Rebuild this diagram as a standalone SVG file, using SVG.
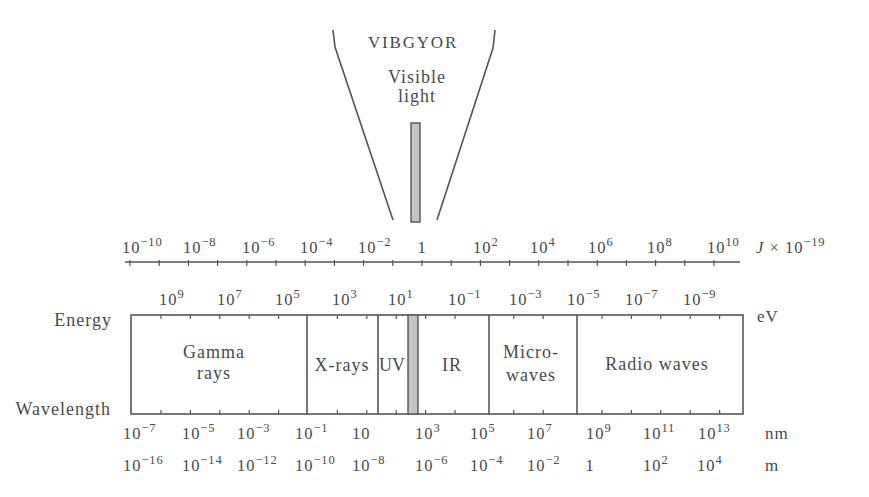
<svg xmlns="http://www.w3.org/2000/svg" width="869" height="497" viewBox="0 0 869 497">
<style>
text{font-family:"Liberation Serif","Times New Roman",serif;fill:#4a4a4a}
.lab{font-size:18px;letter-spacing:1px}
.num{font-size:16.5px;letter-spacing:1px}
.sup{font-size:12.5px;letter-spacing:0.8px}
.ln{stroke:#555;stroke-width:1.6;fill:none}
.tk{stroke:#555;stroke-width:1.2}
.bar{fill:#c4c4c4;stroke:#555;stroke-width:1.4}
</style>
<rect width="869" height="497" fill="#fff"/>

<g id="visible-funnel">
<path class="ln" d="M333 30 L335 47 L393 220"/>
<path class="ln" d="M495 30 L493 48 L437 220"/>
<rect class="bar" x="411" y="123" width="9" height="99"/>
<text class="lab" x="413" y="48" text-anchor="middle" style="letter-spacing:1.8px;font-size:17px">VIBGYOR</text>
<text class="lab" x="417" y="83" text-anchor="middle">Visible</text>
<text class="lab" x="417" y="102" text-anchor="middle">light</text>
</g>

<g id="energy-J-axis">
<line class="ln" x1="125" y1="262" x2="740" y2="262"/>
<path class="tk" d="M130 260v6M159.2 260v6M188.4 260v6M217.6 260v6M246.8 260v6M276 260v6M305.2 260v6M334.4 260v6M363.6 260v6M392.8 260v6M422 260v6M451.2 260v6M480.4 260v6M509.6 260v6M538.8 260v6M568 260v6M597.2 260v6M626.4 260v6M655.6 260v6M684.8 260v6M714 260v6"/>
<text class="num" x="122" y="253">10<tspan class="sup" dy="-7">−10</tspan></text>
<text class="num" x="183" y="253">10<tspan class="sup" dy="-7">−8</tspan></text>
<text class="num" x="242" y="253">10<tspan class="sup" dy="-7">−6</tspan></text>
<text class="num" x="300" y="253">10<tspan class="sup" dy="-7">−4</tspan></text>
<text class="num" x="358" y="253">10<tspan class="sup" dy="-7">−2</tspan></text>
<text class="num" x="422" y="253" text-anchor="middle">1</text>
<text class="num" x="473" y="253">10<tspan class="sup" dy="-7">2</tspan></text>
<text class="num" x="530" y="253">10<tspan class="sup" dy="-7">4</tspan></text>
<text class="num" x="588" y="253">10<tspan class="sup" dy="-7">6</tspan></text>
<text class="num" x="647" y="253">10<tspan class="sup" dy="-7">8</tspan></text>
<text class="num" x="707" y="253">10<tspan class="sup" dy="-7">10</tspan></text>
<text class="num" x="756" y="253"><tspan font-style="italic">J</tspan> × 10<tspan class="sup" dy="-7">−19</tspan></text>
</g>

<g id="energy-eV-labels">
<text class="num" x="159" y="305">10<tspan class="sup" dy="-7">9</tspan></text>
<text class="num" x="217" y="305">10<tspan class="sup" dy="-7">7</tspan></text>
<text class="num" x="275" y="305">10<tspan class="sup" dy="-7">5</tspan></text>
<text class="num" x="332" y="305">10<tspan class="sup" dy="-7">3</tspan></text>
<text class="num" x="388" y="305">10<tspan class="sup" dy="-7">1</tspan></text>
<text class="num" x="448" y="305">10<tspan class="sup" dy="-7">−1</tspan></text>
<text class="num" x="509" y="305">10<tspan class="sup" dy="-7">−3</tspan></text>
<text class="num" x="567" y="305">10<tspan class="sup" dy="-7">−5</tspan></text>
<text class="num" x="625" y="305">10<tspan class="sup" dy="-7">−7</tspan></text>
<text class="num" x="683" y="305">10<tspan class="sup" dy="-7">−9</tspan></text>
<text class="num" x="757" y="322" style="font-size:17px">eV</text>
<text class="lab" x="112" y="326" text-anchor="end">Energy</text>
<text class="lab" x="111" y="415" text-anchor="end">Wavelength</text>
</g>

<g id="spectrum-box">
<rect class="ln" x="131" y="315" width="612" height="99"/>
<path class="tk" d="M161 315v4M190.4 315v4M219.8 315v4M249.2 315v4M278.6 315v4M337.4 315v4M366.8 315v4M396.2 315v4M425.6 315v4M455 315v4M513.8 315v4M543.2 315v4M602 315v4M631.4 315v4M660.8 315v4M690.2 315v4M719.6 315v4"/>
<path class="tk" d="M161 414v-4M190.4 414v-4M219.8 414v-4M249.2 414v-4M278.6 414v-4M337.4 414v-4M366.8 414v-4M396.2 414v-4M425.6 414v-4M455 414v-4M513.8 414v-4M543.2 414v-4M602 414v-4M631.4 414v-4M660.8 414v-4M690.2 414v-4M719.6 414v-4"/>
</g>

<g id="gamma-rays">
<text class="lab" x="214" y="358" text-anchor="middle">Gamma</text>
<text class="lab" x="214" y="379" text-anchor="middle">rays</text>
</g>
<g id="x-rays">
<line class="ln" x1="307" y1="315" x2="307" y2="414"/>
<text class="lab" x="342" y="371" text-anchor="middle">X-rays</text>
</g>
<g id="uv">
<line class="ln" x1="378" y1="315" x2="378" y2="414"/>
<text class="lab" x="392" y="371" text-anchor="middle" style="letter-spacing:0">UV</text>
</g>
<g id="visible-band">
<rect class="bar" x="408" y="315" width="10" height="99"/>
</g>
<g id="ir">
<text class="lab" x="452" y="371" text-anchor="middle">IR</text>
</g>
<g id="microwaves">
<line class="ln" x1="489" y1="315" x2="489" y2="414"/>
<text class="lab" x="531" y="358" text-anchor="middle">Micro-</text>
<text class="lab" x="531" y="381" text-anchor="middle">waves</text>
</g>
<g id="radio-waves">
<line class="ln" x1="577" y1="315" x2="577" y2="414"/>
<text class="lab" x="657" y="370" text-anchor="middle">Radio waves</text>
</g>

<g id="wavelength-nm">
<text class="num" x="123" y="439">10<tspan class="sup" dy="-7">−7</tspan></text>
<text class="num" x="182" y="439">10<tspan class="sup" dy="-7">−5</tspan></text>
<text class="num" x="237" y="439">10<tspan class="sup" dy="-7">−3</tspan></text>
<text class="num" x="295" y="439">10<tspan class="sup" dy="-7">−1</tspan></text>
<text class="num" x="352" y="439">10</text>
<text class="num" x="415" y="439">10<tspan class="sup" dy="-7">3</tspan></text>
<text class="num" x="470" y="439">10<tspan class="sup" dy="-7">5</tspan></text>
<text class="num" x="527" y="439">10<tspan class="sup" dy="-7">7</tspan></text>
<text class="num" x="586" y="439">10<tspan class="sup" dy="-7">9</tspan></text>
<text class="num" x="643" y="439">10<tspan class="sup" dy="-7">11</tspan></text>
<text class="num" x="698" y="439">10<tspan class="sup" dy="-7">13</tspan></text>
<text class="num" x="765" y="439" style="font-size:17px">nm</text>
</g>

<g id="wavelength-m">
<text class="num" x="123" y="471">10<tspan class="sup" dy="-7">−16</tspan></text>
<text class="num" x="182" y="471">10<tspan class="sup" dy="-7">−14</tspan></text>
<text class="num" x="237" y="471">10<tspan class="sup" dy="-7">−12</tspan></text>
<text class="num" x="295" y="471">10<tspan class="sup" dy="-7">−10</tspan></text>
<text class="num" x="352" y="471">10<tspan class="sup" dy="-7">−8</tspan></text>
<text class="num" x="415" y="471">10<tspan class="sup" dy="-7">−6</tspan></text>
<text class="num" x="470" y="471">10<tspan class="sup" dy="-7">−4</tspan></text>
<text class="num" x="527" y="471">10<tspan class="sup" dy="-7">−2</tspan></text>
<text class="num" x="590" y="471" text-anchor="middle">1</text>
<text class="num" x="643" y="471">10<tspan class="sup" dy="-7">2</tspan></text>
<text class="num" x="697" y="471">10<tspan class="sup" dy="-7">4</tspan></text>
<text class="num" x="765" y="471" style="font-size:17px">m</text>
</g>
</svg>
